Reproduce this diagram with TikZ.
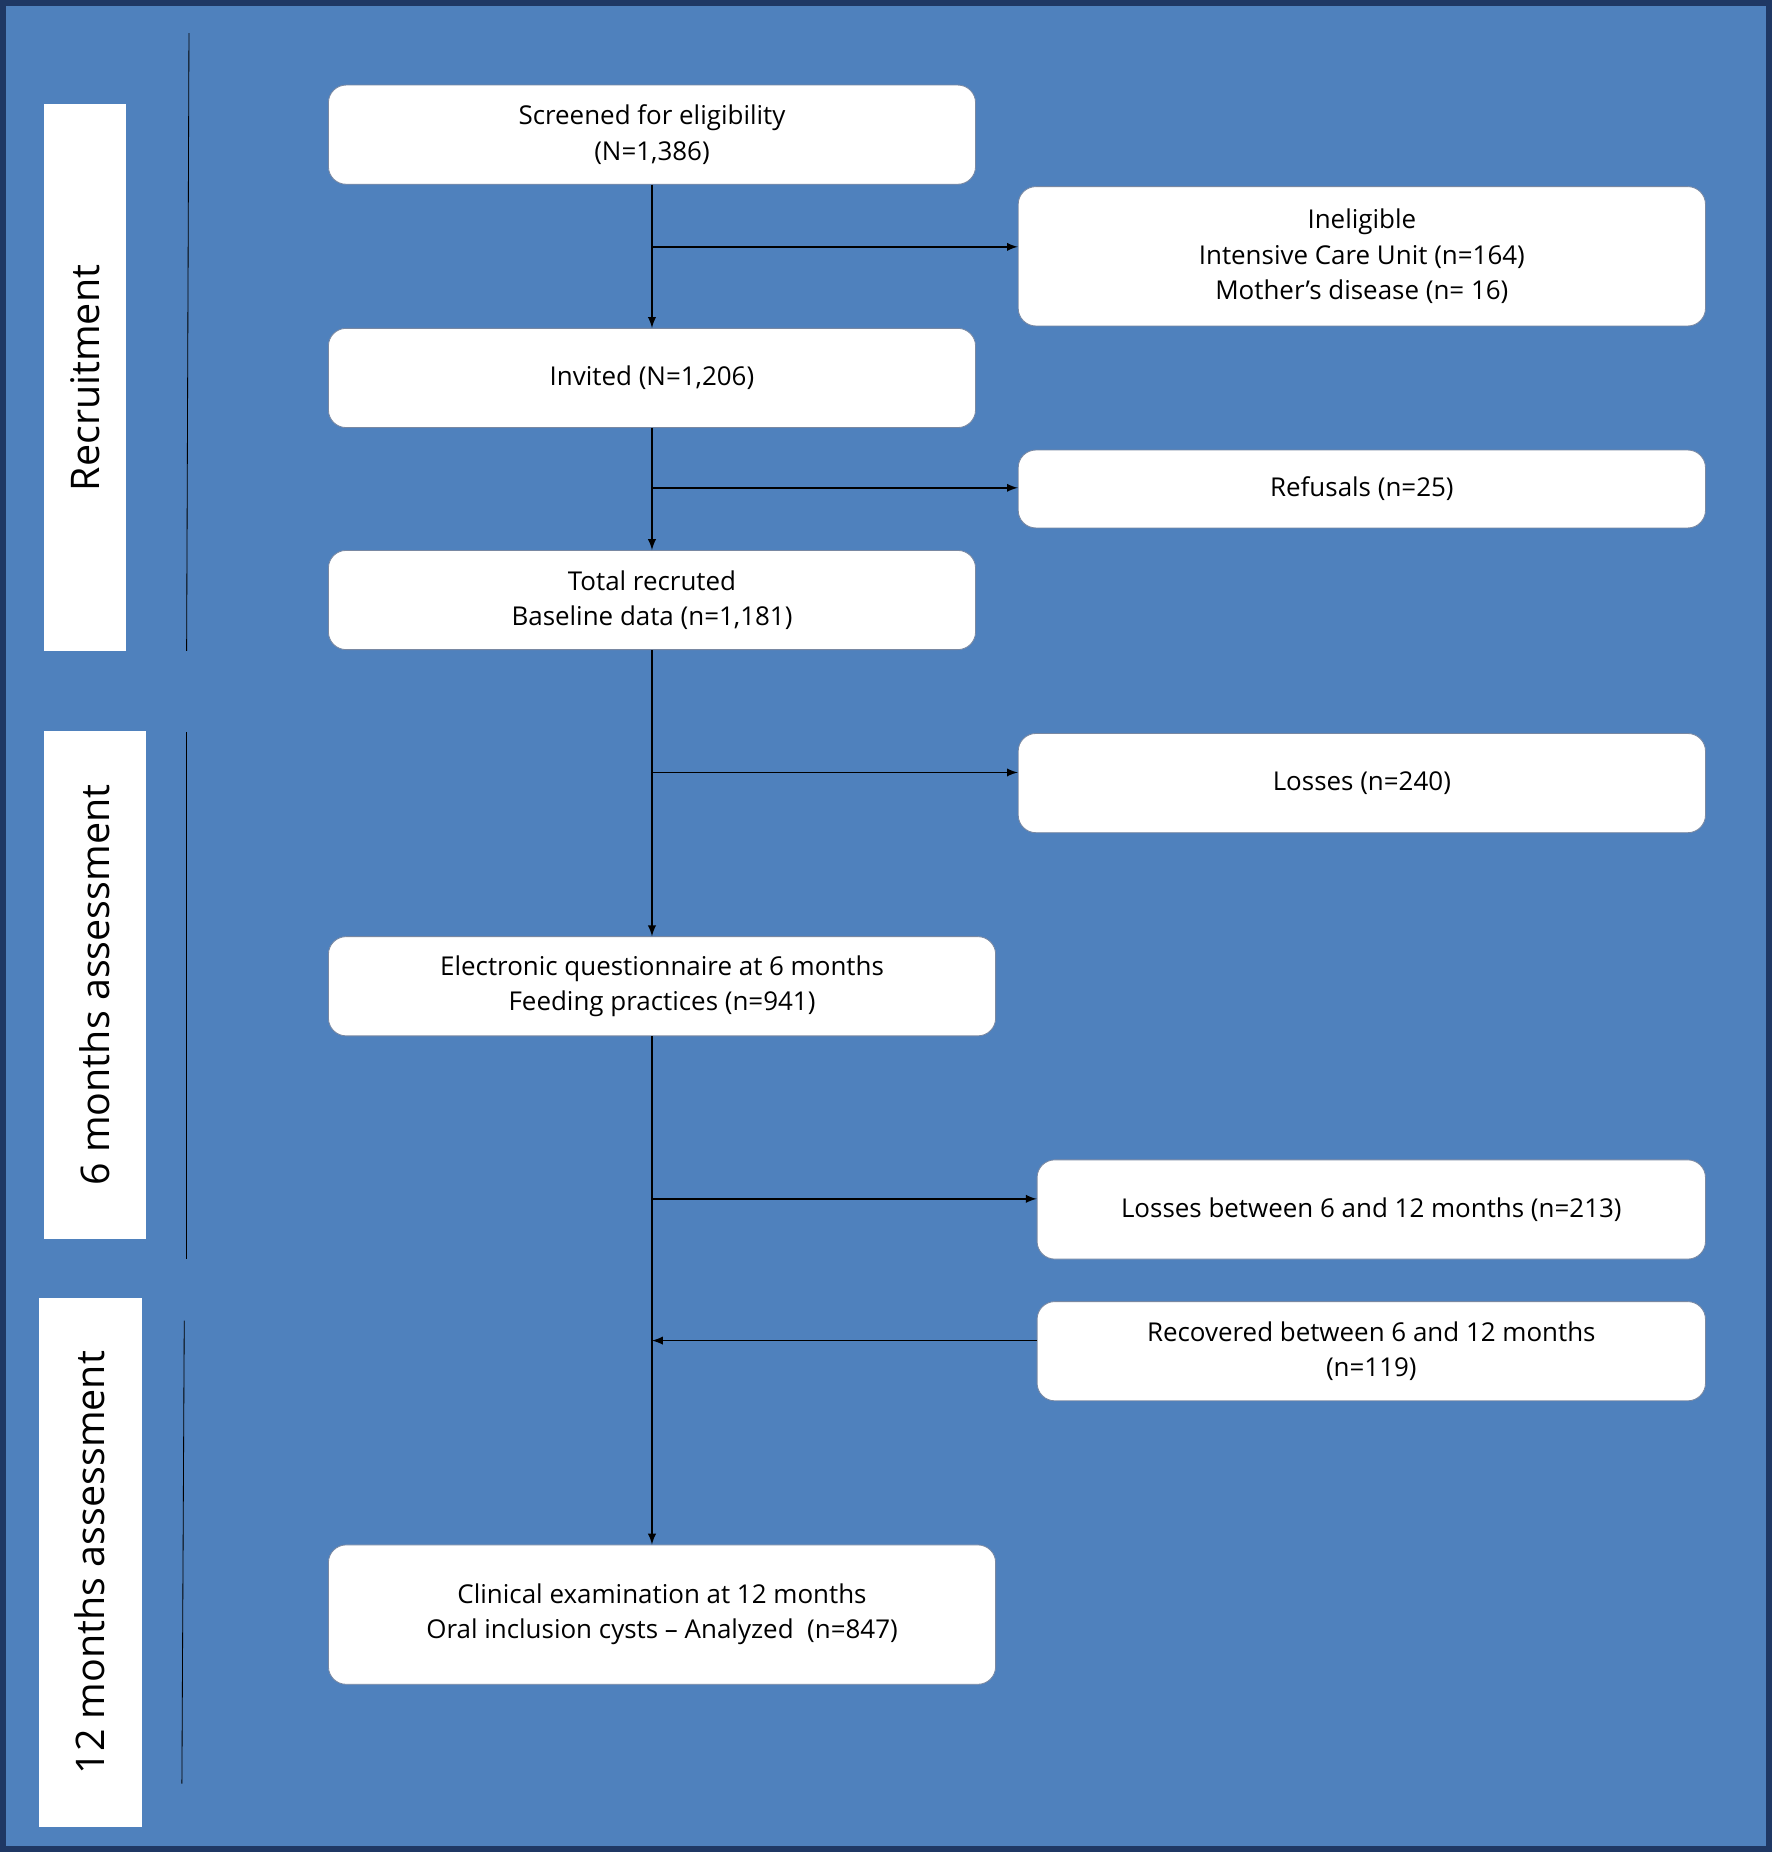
\documentclass[tikz,border=0pt]{standalone}
\usepackage{fontspec}
\setmainfont{Open Sans}
\usetikzlibrary{calc}
\definecolor{bgblue}{HTML}{4F81BD}
\definecolor{frame}{HTML}{1F3864}
\tikzset{
  box/.style={draw=frame!60, fill=white, rounded corners=0.3cm, align=center,
    font=\fontsize{12.5}{17}\selectfont, inner sep=0pt},
  flow/.style={thick, -latex},
  stage/.style={fill=white, inner sep=0pt}
}
\begin{document}
\begin{tikzpicture}[x=0.02cm, y=-0.02cm]
    % Background
    \fill[frame] (0,0) rectangle (1500,1568);
    \fill[bgblue] (5,5) rectangle (1495,1563);
    \useasboundingbox (0,0) rectangle (1500,1568);

    % Stage labels
    \fill[white] (37,88) rectangle (107,551);
    \node[rotate=90, font=\fontsize{19}{22}\selectfont] (rec) at (72,320) {Recruitment};
    \fill[white] (37,619) rectangle (124,1049);
    \node[rotate=90, font=\fontsize{19}{22}\selectfont] (six) at (80,834) {6 months assessment};
    \fill[white] (33,1099) rectangle (120,1547);
    \node[rotate=90, font=\fontsize{19}{22}\selectfont] (twelve) at (76,1323) {12 months assessment};
    \draw[thin] (160,28) -- (158,551);
    \draw[thin] (158,620) -- (158,1066);
    \draw[thin] (156,1118) -- (154,1510);

    % Boxes
    \node[box, minimum width=10.96cm, minimum height=1.68cm] (screen) at (552,114) {Screened for eligibility\\(N=1,386)};
    \node[box, minimum width=11.64cm, minimum height=2.36cm] (inel) at (1153,217) {Ineligible\\Intensive Care Unit (n=164)\\Mother’s disease (n= 16)};
    \node[box, minimum width=10.96cm, minimum height=1.68cm] (invited) at (552,320) {Invited (N=1,206)};
    \node[box, minimum width=11.64cm, minimum height=1.32cm] (refusal) at (1153,414) {Refusals (n=25)};
    \node[box, minimum width=10.96cm, minimum height=1.68cm] (total) at (552,508) {Total recruted\\Baseline data (n=1,181)};
    \node[box, minimum width=11.64cm, minimum height=1.68cm] (loss) at (1153,663) {Losses (n=240)};
    \node[box, minimum width=11.30cm, minimum height=1.68cm] (quest) at (560.5,835) {Electronic questionnaire at 6 months\\Feeding practices (n=941)};
    \node[box, minimum width=11.32cm, minimum height=1.68cm] (lossb) at (1161,1024) {Losses between 6 and 12 months (n=213)};
    \node[box, minimum width=11.32cm, minimum height=1.68cm] (recov) at (1161,1144) {Recovered between 6 and 12 months\\(n=119)};
    \node[box, minimum width=11.30cm, minimum height=2.36cm] (clin) at (560.5,1367) {Clinical examination at 12 months\\Oral inclusion cysts -- Analyzed~~(n=847)};

    % Connectors
    \coordinate (b1) at (552,209);
    \coordinate (b2) at (552,413);
    \coordinate (b3) at (552,654);
    \coordinate (b4) at (552,1015);
    \coordinate (b5) at (552,1135);
    \draw[flow] (screen.south -| b1) -- (invited.north -| b1);
    \draw[flow] (b1) -- (b1 -| inel.west);
    \draw[flow] (invited.south -| b2) -- (total.north -| b2);
    \draw[flow] (b2) -- (b2 -| refusal.west);
    \draw[flow] (total.south -| b3) -- (quest.north -| b3);
    \draw[flow] (b3) -- (b3 -| loss.west);
    \draw[flow] (quest.south -| b4) -- (clin.north -| b4);
    \draw[flow] (b4) -- (b4 -| lossb.west);
    \draw[flow] (b5 -| recov.west) -- (b5);
\end{tikzpicture}
\end{document}
